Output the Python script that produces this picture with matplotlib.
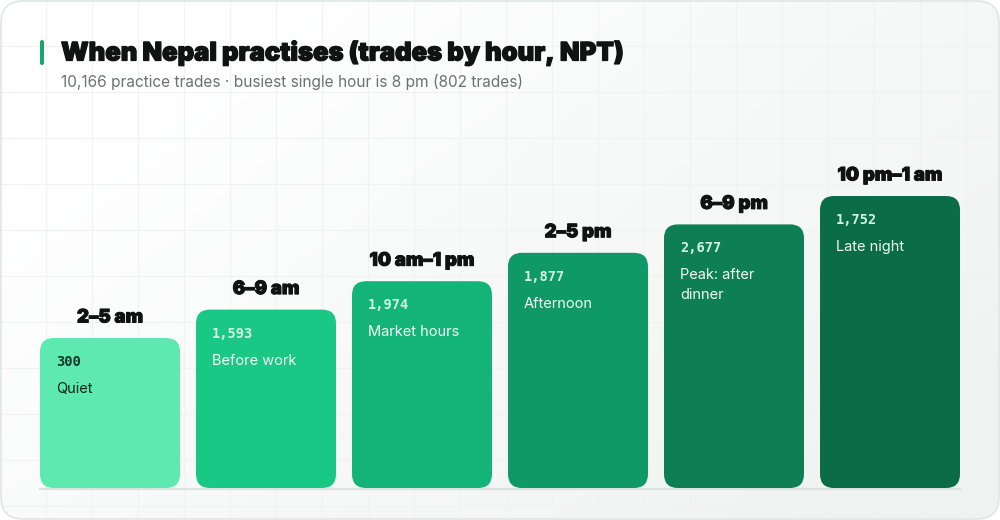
import matplotlib
matplotlib.use('Agg')
import matplotlib.pyplot as plt
import matplotlib.patheffects as pe
import numpy as np
from matplotlib.patches import FancyBboxPatch
from matplotlib.colors import LinearSegmentedColormap

# data
slots = ['2–5 am', '6–9 am', '10 am–1 pm', '2–5 pm', '6–9 pm', '10 pm–1 am']
trades = [300, 1593, 1974, 1877, 2677, 1752]
notes = ['Quiet', 'Before work', 'Market hours', 'Afternoon', 'Peak: after\ndinner', 'Late night']
title = 'When Nepal practises (trades by hour, NPT)'
subtitle = '10,166 practice trades · busiest single hour is 8 pm (802 trades)'

bar_colors = ['#5de9b0', '#18c884', '#14b478', '#0f9966', '#0e7f54', '#0b6c48']
W, H = 1000, 520

fig = plt.figure(figsize=(10, 5.2), dpi=100)
ax = fig.add_axes([0, 0, 1, 1])
ax.set_xlim(0, W)
ax.set_ylim(H, 0)
ax.axis('off')

# card with gradient fill
card = FancyBboxPatch((1, 1), W - 2, H - 2, boxstyle='round,pad=0,rounding_size=22',
                      facecolor='none', edgecolor='#dfe6e3', lw=1.2, zorder=3)
ax.add_patch(card)
gx, gy = np.meshgrid(np.linspace(0, 1, 200), np.linspace(0, 1, 100))
grad = np.clip((gx * 0.6 + gy * 0.4) * 1.3 - 0.2, 0, 1)
cmap = LinearSegmentedColormap.from_list('bg', ['#ffffff', '#eef3f1'])
im = ax.imshow(grad, cmap=cmap, extent=(0, W, H, 0), aspect='auto', zorder=0)
im.set_clip_path(card)

# faint grid
for g in np.arange(46, W, 46):
    ln = ax.plot([g, g], [0, H], color='#f0f3f2', lw=0.8, zorder=1)[0]
    ln.set_clip_path(card)
for g in np.arange(46, H, 46):
    ln = ax.plot([0, W], [g, g], color='#f0f3f2', lw=0.8, zorder=1)[0]
    ln.set_clip_path(card)

heavy = [pe.withStroke(linewidth=0.9, foreground='#101312')]

# title
ax.add_patch(FancyBboxPatch((40, 40), 4, 25, boxstyle='round,pad=0,rounding_size=2',
                            facecolor='#16a56c', edgecolor='none', zorder=4))
ax.text(61, 53, title, fontsize=18.4, fontweight='black', family=['Inter', 'DejaVu Sans'],
        color='#101312', va='center', ha='left', zorder=5, path_effects=heavy)
ax.text(61, 82, subtitle, fontsize=11.1, family=['Inter', 'DejaVu Sans'],
        color='#6b7371', va='center', ha='left', zorder=5)

# bars: staircase layout
left0, bar_w, gap = 40, 140, 16
base_y = 488
h0, step = 150, 28.4

ax.plot([left0, left0 + 6 * bar_w + 5 * gap], [base_y + 1, base_y + 1],
        color='#dbe3e0', lw=1.6, zorder=2)

for i, (slot, val, note, col) in enumerate(zip(slots, trades, notes, bar_colors)):
    x = left0 + i * (bar_w + gap)
    hgt = h0 + i * step
    top = base_y - hgt
    ax.add_patch(FancyBboxPatch((x, top), bar_w, hgt, boxstyle='round,pad=0,rounding_size=14',
                                facecolor=col, edgecolor='none', zorder=4))
    if i == 0:
        vc, tc = '#12372a', '#0b2418'
    else:
        vc, tc = '#d3f3e3', '#f0fbf5'
    ax.text(x + bar_w / 2, top - 20, slot, fontsize=13.4, fontweight='black',
            family=['Inter', 'DejaVu Sans'], color='#101312', ha='center', va='center',
            zorder=5, path_effects=[pe.withStroke(linewidth=0.7, foreground='#101312')])
    ax.text(x + 16, top + 24, f'{val:,}', fontsize=9.8, fontweight='bold',
            family='DejaVu Sans Mono', color=vc, ha='left', va='center', zorder=5)
    for k, line in enumerate(note.split('\n')):
        ax.text(x + 16, top + 51 + k * 20, line, fontsize=10.5,
                family=['Inter', 'DejaVu Sans'], color=tc, ha='left', va='center', zorder=5)

fig.savefig('out.png', dpi=100, facecolor='white')
